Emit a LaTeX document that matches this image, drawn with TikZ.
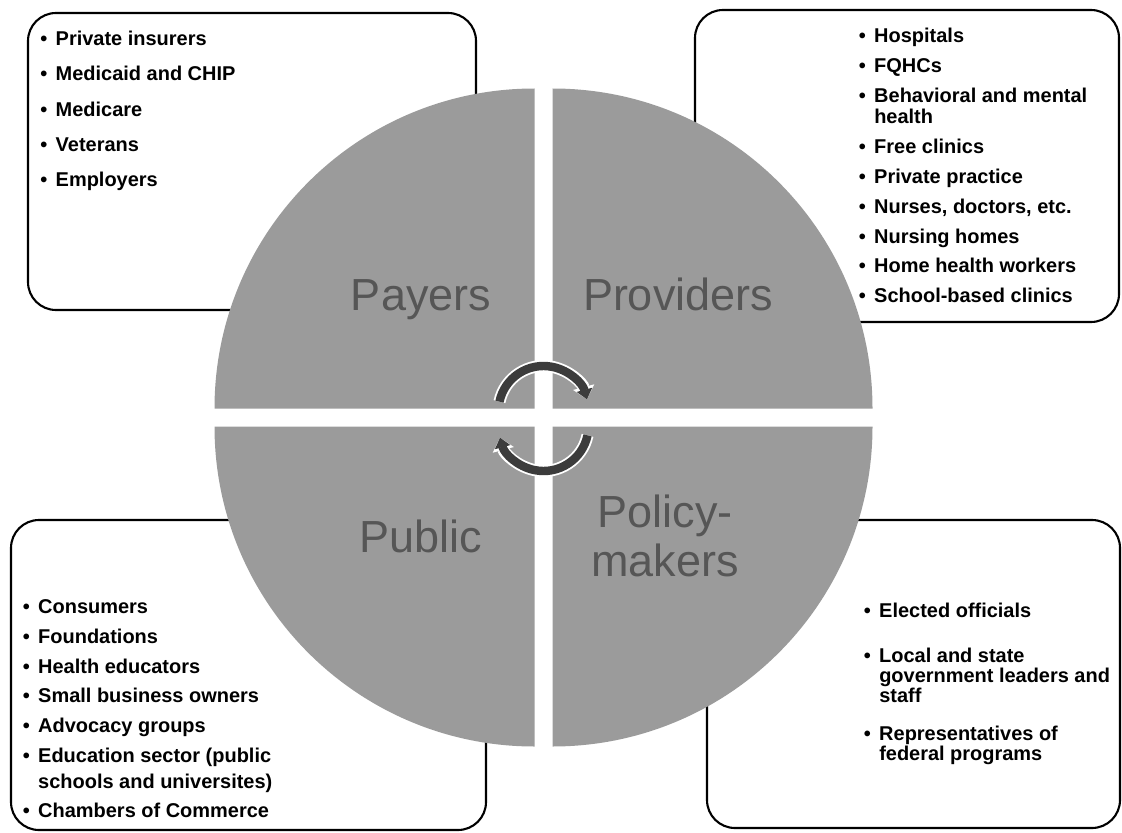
\documentclass[tikz,border=0pt]{standalone}
\usepackage{fontspec}
\setmainfont{Liberation Sans}
\usepackage{xcolor}
\usetikzlibrary{arrows.meta}

\definecolor{quadgray}{RGB}{155,155,155}
\definecolor{labelgray}{RGB}{86,86,86}
\definecolor{arrowgray}{RGB}{60,60,60}

% bullet and hanging indent for the lists
\newcommand{\lbul}{\makebox[11pt][l]{\textbullet}}
\newcommand{\lind}{\hspace*{11pt}}

\begin{document}
\begin{tikzpicture}[
  x=0.25mm, y=-0.25mm,
  listbox/.style={draw, line width=1.5pt, rounded corners=7mm},
  quad/.style={fill=quadgray},
  qlabel/.style={text=labelgray, font=\fontsize{32}{35}\selectfont, inner sep=0pt, anchor=base},
  itemlist/.style={align=left, anchor=north west, inner sep=0pt},
  turnback/.style={white, line width=8.6pt, -{Triangle[width=15pt, length=9pt]}},
  turn/.style={arrowgray, line width=6pt, -{Triangle[width=11pt, length=7pt]}}
]
  \useasboundingbox (0,0) rectangle (1122,833);

  % list boxes sit behind the circle
  \draw[listbox] (28,13) rectangle (476,310);
  \draw[listbox] (695,10) rectangle (1119,322);
  \draw[listbox] (11,520) rectangle (486,830);
  \draw[listbox] (707,520) rectangle (1120,828);

  % four quarters, pulled apart
  \fill[quad] (534.5,408.5) -- ++(180:320) arc[start angle=180, end angle=270, radius=320] -- cycle;
  \fill[quad] (552.5,408.5) -- ++(270:320) arc[start angle=270, end angle=360, radius=320] -- cycle;
  \fill[quad] (552.5,426.5) -- ++(0:320) arc[start angle=0, end angle=90, radius=320] -- cycle;
  \fill[quad] (534.5,426.5) -- ++(90:320) arc[start angle=90, end angle=180, radius=320] -- cycle;

  \node[qlabel] (payers) at (421,310) {Payers};
  \node[qlabel] (providers) at (678,310) {Providers};
  \node[qlabel] (public) at (421,552) {Public};
  \node[qlabel] (policy) at (665,527) {Policy-};
  \node[qlabel] (makers) at (665,576) {makers};

  % turning arrows in the middle
  \draw[turnback] (543.5,411) ++(192:45) arc[start angle=192, end angle=345, radius=45];
  \draw[turn] (543.5,411) ++(192:45) arc[start angle=192, end angle=345, radius=45];
  \draw[turnback] (543.5,426) ++(12:45) arc[start angle=12, end angle=165, radius=45];
  \draw[turn] (543.5,426) ++(12:45) arc[start angle=12, end angle=165, radius=45];

  % lists
  \node[itemlist, font=\bfseries\fontsize{14.2}{25.2}\selectfont] (payerlist) at (40,30.5)
    {\lbul Private insurers\\ \lbul Medicaid and CHIP\\ \lbul Medicare\\ \lbul Veterans\\ \lbul Employers};
  \node[itemlist, font=\bfseries\fontsize{14.2}{21.3}\selectfont] (providerlist) at (858.5,27.5)
    {\lbul Hospitals\\ \lbul FQHCs\\ \lbul Behavioral and mental\\[-6.3pt] \lind health\\
     \lbul Free clinics\\ \lbul Private practice\\ \lbul Nurses, doctors, etc.\\
     \lbul Nursing homes\\ \lbul Home health workers\\ \lbul School-based clinics};
  \node[itemlist, font=\bfseries\fontsize{14.2}{21.1}\selectfont] (publiclist) at (22.5,599.5)
    {\lbul Consumers\\ \lbul Foundations\\ \lbul Health educators\\ \lbul Small business owners\\
     \lbul Advocacy groups\\ \lbul Education sector (public\\[-2.6pt] \lind schools and universites)\\
     \lbul Chambers of Commerce};
  \node[itemlist, font=\bfseries\fontsize{14.2}{14.2}\selectfont] (policylist) at (863.5,602.5)
    {\lbul Elected officials\\[17.8pt] \lbul Local and state\\ \lind government leaders and\\ \lind staff\\[12.8pt]
     \lbul Representatives of\\ \lind federal programs};
\end{tikzpicture}
\end{document}
